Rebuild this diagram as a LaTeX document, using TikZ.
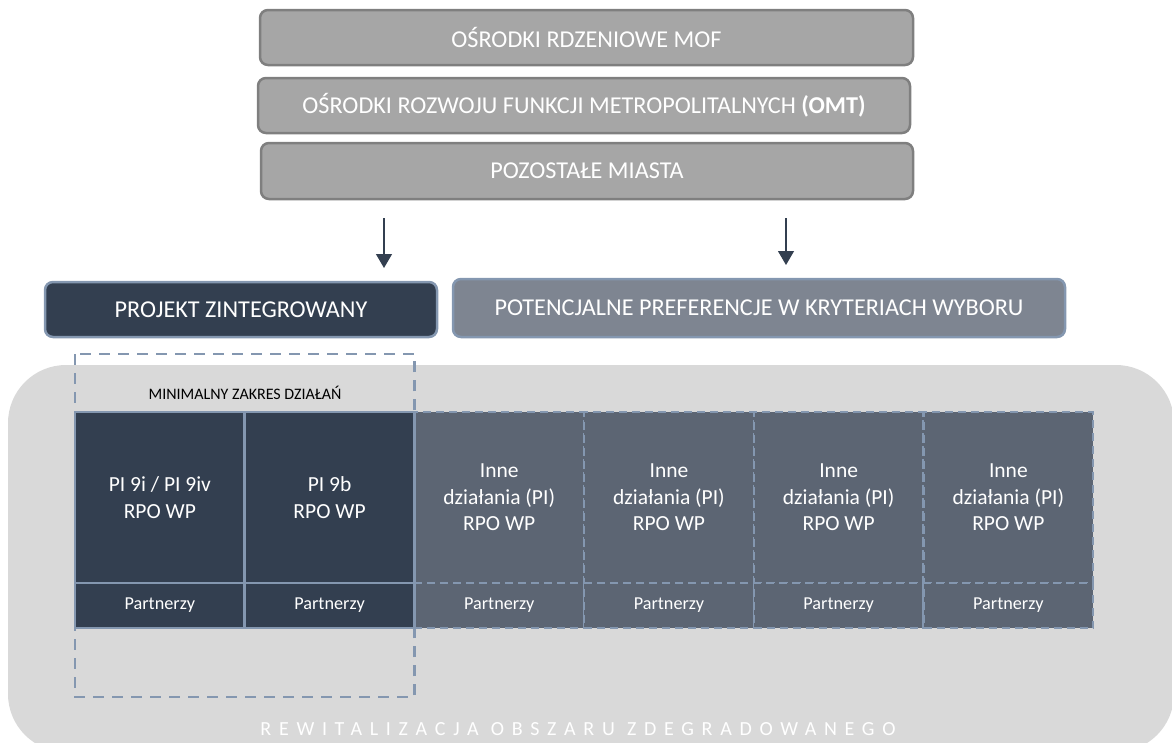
\documentclass[tikz,border=0pt]{standalone}
\usepackage{fontspec}
\setmainfont{Carlito}
\newfontfamily\rozstrzelony[LetterSpace=38.5]{Carlito}
\usetikzlibrary{positioning,arrows.meta}

\definecolor{granat}{HTML}{333F50}
\definecolor{ramka}{HTML}{8497B0}
\definecolor{szary}{HTML}{A6A6A6}
\definecolor{szaryramka}{HTML}{7F7F7F}
\definecolor{tlo}{HTML}{D9D9D9}
\definecolor{grafit}{HTML}{5C6573}
\definecolor{stal}{HTML}{7E8591}

\begin{document}
\begin{tikzpicture}[x=1pt, y=-1pt, outer sep=0pt, inner sep=0pt]

\tikzstyle{miasto}=[draw=szaryramka, fill=szary, line width=2.5pt, rounded corners=8pt, minimum width=653pt, minimum height=55pt, text=white, font=\fontsize{24.2}{29}\selectfont]
\tikzstyle{projekt}=[draw=ramka, fill=granat, line width=2.5pt, rounded corners=8pt, minimum height=55pt, text=white, font=\fontsize{24.2}{29}\selectfont]
\tikzstyle{pi}=[draw=ramka, fill=granat, line width=2.5pt, minimum width=169.7pt, minimum height=171pt, text=white, align=center, font=\fontsize{21.5}{26.5}\selectfont]
\tikzstyle{inne}=[pi, fill=grafit, line width=2.4pt, dash pattern=on 8pt off 5pt]
\tikzstyle{partner}=[minimum height=45pt, font=\fontsize{18.2}{22}\selectfont]
\tikzstyle{strzalka}=[draw=granat, line width=1.2pt, -{Triangle[width=16pt, length=14pt]}]

\useasboundingbox (0,0) rectangle (1172,742);
\clip (0,0) rectangle (1172,742);

% tlo - obszar zdegradowany
\fill[tlo, rounded corners=58pt] (8,365) rectangle (1174,752);

\node[miasto, anchor=north west] (mof) at (260,10) {OŚRODKI RDZENIOWE MOF};
\node[miasto, anchor=north west, minimum width=652pt] (omt) at (258,78) {OŚRODKI ROZWOJU FUNKCJI METROPOLITALNYCH \textbf{(OMT)}};
\node[miasto, anchor=north west, minimum width=652pt, minimum height=56pt] (miasta) at (261,143) {POZOSTAŁE MIASTA};

\node[projekt, anchor=north west, minimum width=392pt] (zintegrowany) at (45,282) {PROJEKT ZINTEGROWANY};
\node[projekt, anchor=north west, fill=stal, minimum width=612pt, minimum height=58pt] (preferencje) at (453,279) {POTENCJALNE PREFERENCJE W KRYTERIACH WYBORU};

\coordinate (s1) at (384,0);
\coordinate (s2) at (786,0);
\draw[strzalka, shorten <=19pt, shorten >=14pt] (miasta.south -| s1) -- (zintegrowany.north -| s1);
\draw[strzalka, shorten <=19pt, shorten >=14pt] (miasta.south -| s2) -- (preferencje.north -| s2);

% inne dzialania
\node[inne, anchor=north west] (d3) at (414.4,412) {Inne\\działania (PI)\\RPO WP};
\node[inne, right=0pt of d3] (d4) {Inne\\działania (PI)\\RPO WP};
\node[inne, right=0pt of d4] (d5) {Inne\\działania (PI)\\RPO WP};
\node[inne, right=0pt of d5] (d6) {Inne\\działania (PI)\\RPO WP};
\node[inne, partner, below=0pt of d3] (p3) {Partnerzy};
\node[inne, partner, below=0pt of d4] (p4) {Partnerzy};
\node[inne, partner, below=0pt of d5] (p5) {Partnerzy};
\node[inne, partner, below=0pt of d6] (p6) {Partnerzy};

% minimalny zakres
\node[pi, left=0pt of d3] (d2) {PI 9b\\RPO WP};
\node[pi, left=0pt of d2] (d1) {PI 9i / PI 9iv\\RPO WP};
\node[pi, partner, below=0pt of d1] (p1) {Partnerzy};
\node[pi, partner, below=0pt of d2] (p2) {Partnerzy};

\draw[ramka, line width=2.5pt, dash pattern=on 11pt off 8pt] (d1.west |- 0,354) rectangle (d2.east |- 0,697);
\node[font=\fontsize{16}{19}\selectfont] (minimalny) at (245,393) {MINIMALNY ZAKRES DZIAŁAŃ};

\node[text=white, font=\rozstrzelony\fontsize{20}{23}\selectfont] (rewitalizacja) at (578,729) {REWITALIZACJA OBSZARU ZDEGRADOWANEGO};

\end{tikzpicture}
\end{document}
